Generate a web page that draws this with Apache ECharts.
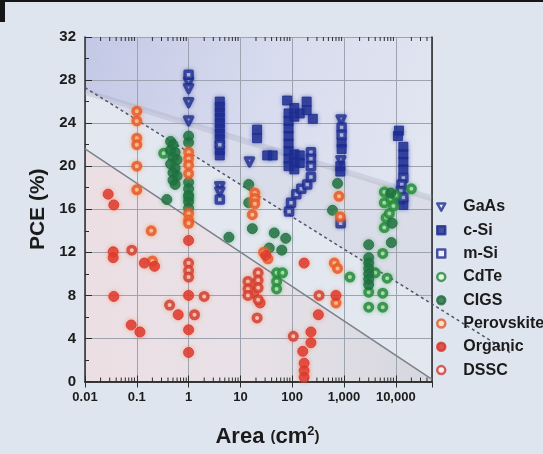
<!DOCTYPE html>
<html>
<head>
<meta charset="utf-8">
<script src="https://cdn.jsdelivr.net/npm/echarts@6/dist/echarts.min.js"></script>
<style>
  html, body { margin: 0; padding: 0; background: #dee5ef; }
  #chart { width: 543px; height: 454px; }
  #topline { position: absolute; left: 0; top: 0; width: 543px; height: 2px; background: #161616; }
  #corner { position: absolute; left: 0; top: 0; width: 5px; height: 22px; background: #161616; }
</style>
</head>
<body>
<div id="chart"></div>
<div id="topline"></div>
<div id="corner"></div>
<script>
// values: [area cm2, PCE %]
const gaas = [[1, 27.8], [1, 27.2], [1, 25.9], [1, 24.2], [4, 18.1], [4, 17.6], [15, 20.4], [880, 24.3], [870, 20.5]];
const cSi = [
  [4, 26.0], [4, 25.5], [4, 25.0], [4, 24.5], [4, 24.0], [4, 23.5], [4, 23.0], [4, 22.5], [4, 21.5], [4, 21.0],
  [21, 23.4], [21, 22.6], [33, 21.0], [42, 21.0],
  [80, 26.1], [85, 24.9], [85, 24.2], [85, 23.5], [85, 22.8], [85, 22.1], [85, 21.4], [85, 20.7], [85, 20.0],
  [110, 25.4], [110, 24.6], [110, 21.1], [110, 20.4], [110, 19.7], [140, 24.9], [140, 21.0], [140, 20.3],
  [190, 26.0], [190, 25.2], [250, 24.4],
  [900, 22.2], [900, 21.6], [850, 20.0], [850, 19.5],
  [11500, 23.3], [11000, 22.8], [14000, 21.8], [14000, 21.1], [14000, 20.4], [14000, 19.7], [12000, 16.9], [14000, 16.4]
];
const mSi = [
  [1, 28.5], [4, 22.0], [4, 16.9],
  [87, 15.8], [95, 16.6], [120, 17.4], [150, 17.9], [195, 18.3], [230, 19.0],
  [230, 21.3], [230, 20.7], [230, 20.0],
  [900, 23.6], [900, 22.9], [860, 14.7],
  [14000, 18.9], [13000, 18.3], [12500, 17.7], [14000, 17.1]
];
const cdte = [
  [0.33, 21.2], [1, 17.1], [50, 10.1], [65, 10.1], [50, 9.3], [50, 8.6], [1300, 9.7],
  [3000, 8.3], [3000, 6.9], [4000, 10.1], [5600, 8.2], [5600, 6.9], [6800, 9.6], [5600, 11.9],
  [6000, 17.6], [6000, 16.6], [6500, 15.2], [6000, 14.3], [8000, 17.0], [9000, 16.3], [7500, 15.6],
  [20000, 17.9], [10000, 17.3]
];
const cigs = [
  [0.45, 22.3], [0.5, 22.0], [0.45, 21.5], [0.55, 21.3], [0.5, 20.8], [0.6, 20.6], [0.45, 20.2], [0.55, 19.8],
  [0.5, 19.4], [0.6, 19.1], [0.5, 18.7], [0.55, 18.3], [0.38, 16.9],
  [1, 22.8], [1, 22.2], [1, 18.5], [1, 17.9], [1, 17.3], [1, 16.7], [1, 16.1],
  [6, 13.4], [14.5, 18.3], [14.5, 16.6], [17, 14.2], [45, 13.8], [75, 13.3], [36, 12.4], [63, 12.2],
  [750, 18.4], [600, 15.9],
  [3000, 12.7], [3000, 11.5], [3000, 11.0], [3000, 10.5], [3000, 10.0], [3000, 9.5], [3000, 9.0],
  [8200, 12.9], [8500, 14.7], [8000, 17.5]
];
const perovskite = [
  [0.1, 25.1], [0.1, 24.2], [0.1, 22.6], [0.1, 22.0], [0.1, 20.0], [0.1, 17.8], [0.19, 14.0], [0.2, 11.2],
  [1, 21.3], [1, 20.7], [1, 20.1], [1, 19.3], [1, 15.6], [1, 15.0], [1, 14.7],
  [19, 17.5], [19, 17.0], [19, 16.5], [17, 15.5], [28, 12.0], [34, 11.4],
  [800, 17.2], [850, 15.3], [650, 11.0], [750, 10.5], [700, 7.3]
];
const organic = [
  [0.028, 17.4], [0.036, 16.4], [0.035, 12.05], [0.035, 11.5], [0.14, 11.0], [0.22, 10.7], [0.036, 7.9],
  [0.078, 5.25], [0.115, 4.6], [1, 13.1], [1, 8.0], [0.63, 6.2], [1, 4.8], [1, 2.7],
  [31, 11.7], [17, 9.0], [18, 8.2], [24, 7.3],
  [170, 11.0], [320, 6.2], [230, 4.6], [230, 3.6], [160, 2.8], [170, 1.7], [170, 1.0], [170, 0.4], [700, 8.0]
];
const dssc = [
  [0.08, 12.2], [1, 11.0], [1, 10.3], [1, 9.7], [0.43, 7.1], [1.3, 6.2], [2.0, 7.9],
  [14, 9.3], [14, 8.6], [14, 8.0], [22, 10.1], [22, 9.4], [22, 8.7], [22, 7.6], [21, 5.9],
  [330, 8.0], [105, 4.2]
];

// trend lines and shaded zones, in data units
const upperBandLine = [[0.01, 26.9], [50000, 17.0]];
const dashedTrend = [[0.01, 27.3], [1.7e6, 2.6]];
const solidTrend = [[0.01, 21.6], [50000, 0.2]];
const plotZone = [[0.01, 32], [50000, 32], [50000, 0], [0.01, 0]];
const blueZone = [[0.01, 32], [50000, 32], [50000, 17.0], [0.01, 26.9]];
const wedgeZone = [[0.01, 26.9], [50000, 17.0], [50000, 7.2], [0.01, 27.3]];
const pinkZone = [[0.01, 21.6], [50000, 0.2], [50000, 0], [0.01, 0]];

const yTicks = [0, 4, 8, 12, 16, 20, 24, 28, 32];
const areaMin = 0.01, areaMax = 50000;

const minorTickValues = [];
for (let e = -2; e <= 4; e++) {
  for (let m = 2; m <= 9; m++) {
    const v = m * Math.pow(10, e);
    if (v < areaMax) minorTickValues.push([v, 0]);
  }
}

const FONT = '"Liberation Sans", Arial, sans-serif';
const chart = echarts.init(document.getElementById('chart'), null, { renderer: 'canvas' });

function fmtArea(v) {
  const n = Math.round(v * 100) / 100;
  if (n >= 1000) return String(n).replace(/\B(?=(\d{3})+(?!\d))/g, ',');
  return String(n);
}

function zone(points, fill) {
  return {
    type: 'custom', silent: true, z: -1, data: [[1, 1]],
    renderItem: (params, api) => ({
      type: 'polygon',
      shape: { points: points.map(p => api.coord(p)) },
      style: { fill: fill }
    })
  };
}

function markers(name, data, symbol, size, fill, stroke, bw, glow, rotate) {
  return {
    name: name, type: 'scatter', data: data, symbol: symbol, symbolSize: size,
    symbolRotate: rotate || 0,
    itemStyle: {
      color: fill, borderColor: stroke, borderWidth: bw, borderJoin: 'round',
      shadowBlur: 4, shadowColor: glow
    },
    z: 5
  };
}

const option = {
  backgroundColor: '#dee5ef',
  animation: false,
  grid: { left: 85, right: 111, top: 37, bottom: 72.5 },
  legend: {
    orient: 'vertical', left: 431, top: 194, itemGap: 7.3, itemWidth: 8, itemHeight: 8,
    itemStyle: { borderWidth: 2.5 },
    textStyle: { fontFamily: FONT, fontWeight: 'bold', fontSize: 16, color: '#1b1b1b', padding: [0, 0, 0, 13] },
    data: [
      { name: 'GaAs', icon: 'path://M0,0 L10,0 L5,9 Z' },
      'c-Si', 'm-Si', 'CdTe', 'CIGS', 'Perovskite', 'Organic', 'DSSC'
    ]
  },
  xAxis: [{
    type: 'log', logBase: 10, min: areaMin, max: areaMax, splitNumber: 7,
    name: '{a|Area }{p|(}{a|cm}{s|2}{p|)}', nameLocation: 'middle', nameGap: 43,
    nameTextStyle: {
      padding: [0, 0, 0, 18],
      rich: {
        a: { fontFamily: FONT, fontWeight: 'bold', fontSize: 22, color: '#1b1b1b' },
        p: { fontFamily: FONT, fontWeight: 'bold', fontSize: 15, color: '#1b1b1b' },
        s: { fontFamily: FONT, fontWeight: 'bold', fontSize: 13, color: '#1b1b1b', padding: [0, 0, 12, 0] }
      }
    },
    axisLine: { lineStyle: { color: '#2c2c2c', width: 1.5 } },
    axisTick: { inside: true, length: 6, lineStyle: { color: '#2c2c2c' } },
    axisLabel: {
      formatter: fmtArea, showMaxLabel: false, margin: 9,
      fontFamily: FONT, fontWeight: 'bold', fontSize: 13, color: '#1b1b1b'
    },
    splitLine: { show: true, lineStyle: { color: '#9ea3b0', width: 1 } }
  }, {
    type: 'log', logBase: 10, min: areaMin, max: areaMax, splitNumber: 7, position: 'top',
    axisLine: { lineStyle: { color: '#2c2c2c', width: 1.5 } },
    axisTick: { inside: true, length: 6, lineStyle: { color: '#2c2c2c' } },
    axisLabel: { show: false }, splitLine: { show: false }
  }],
  yAxis: [{
    type: 'value', min: yTicks[0], max: yTicks[yTicks.length - 1], interval: 4,
    name: 'PCE (%)', nameLocation: 'middle', nameGap: 36,
    nameTextStyle: { fontFamily: FONT, fontWeight: 'bold', fontSize: 21, color: '#1b1b1b' },
    axisLine: { show: true, lineStyle: { color: '#2c2c2c', width: 1.5 } },
    axisTick: { inside: true, length: 7, lineStyle: { color: '#2c2c2c' } },
    minorTick: { show: true, splitNumber: 2, length: 4, lineStyle: { color: '#2c2c2c' } },
    axisLabel: { margin: 9, fontFamily: FONT, fontWeight: 'bold', fontSize: 15, color: '#1b1b1b' },
    splitLine: { show: true, lineStyle: { color: '#9ea3b0', width: 1 } }
  }, {
    type: 'value', min: yTicks[0], max: yTicks[yTicks.length - 1], interval: 4, position: 'right',
    axisLine: { show: true, lineStyle: { color: '#262626', width: 1.5 } },
    axisTick: { show: false }, axisLabel: { show: false }, splitLine: { show: false }
  }],
  series: [
    zone(plotZone, '#e3e7f0'),
    zone(blueZone, new echarts.graphic.LinearGradient(0, 0, 1, 0.7, [
      { offset: 0, color: '#c3c8e6' },
      { offset: 0.5, color: '#d7dbee' },
      { offset: 1, color: '#e2e6f1' }
    ])),
    zone(wedgeZone, new echarts.graphic.LinearGradient(0, 0, 1, 0, [
      { offset: 0, color: '#d8dbed' },
      { offset: 1, color: '#dadde7' }
    ])),
    zone(pinkZone, new echarts.graphic.LinearGradient(0, 0, 1, 0, [
      { offset: 0, color: '#ecdfe3' },
      { offset: 0.5, color: '#e7e1e7' },
      { offset: 1, color: '#d5d7df' }
    ])),
    {
      type: 'line', data: upperBandLine, symbol: 'none', silent: true, z: 1,
      lineStyle: { color: 'rgba(150,156,180,0.25)', width: 6 }
    },
    {
      type: 'line', data: solidTrend, symbol: 'none', silent: true, z: 3,
      lineStyle: { color: '#7d8089', width: 1.5 }
    },
    {
      type: 'custom', silent: true, z: 3, clip: false, data: [[1, 1]],
      renderItem: (params, api) => {
        const a = api.coord(dashedTrend[0]);
        const b = api.coord(dashedTrend[1]);
        return {
          type: 'line', shape: { x1: a[0], y1: a[1], x2: b[0], y2: b[1] },
          style: { stroke: '#4f5566', lineWidth: 1.5, lineDash: [3, 3] }
        };
      }
    },
    {
      type: 'custom', silent: true, z: 4, data: minorTickValues,
      renderItem: (params, api) => {
        const b = api.coord([api.value(0), yTicks[0]]);
        const t = api.coord([api.value(0), yTicks[yTicks.length - 1]]);
        const st = { stroke: '#2c2c2c', lineWidth: 1 };
        return {
          type: 'group', children: [
            { type: 'line', shape: { x1: b[0], y1: b[1], x2: b[0], y2: b[1] - 4 }, style: st },
            { type: 'line', shape: { x1: t[0], y1: t[1], x2: t[0], y2: t[1] + 4 }, style: st }
          ]
        };
      }
    },
    markers('GaAs', gaas, 'triangle', 8, '#f1f2fa', '#1f2d8c', 3.5, 'rgba(40,60,160,0.5)', 180),
    markers('c-Si', cSi, 'rect', 9, '#1d2a8e', '#1d2a8e', 1, 'rgba(40,60,160,0.5)'),
    markers('m-Si', mSi, 'rect', 7, '#f2f4fb', '#1d2a8e', 3.5, 'rgba(40,60,160,0.5)'),
    markers('CdTe', cdte, 'circle', 7.5, '#e6f8dc', '#23853a', 3.5, 'rgba(60,180,80,0.6)'),
    markers('CIGS', cigs, 'circle', 10, '#1f6e3e', '#1f6e3e', 1, 'rgba(40,140,80,0.5)'),
    markers('Perovskite', perovskite, 'circle', 7.5, '#fde2c0', '#e2552b', 3.5, 'rgba(255,140,60,0.7)'),
    markers('Organic', organic, 'circle', 10, '#d9322a', '#d9322a', 1, 'rgba(255,110,60,0.6)'),
    markers('DSSC', dssc, 'circle', 7.5, '#fdf1f1', '#cc3a30', 3.5, 'rgba(255,110,60,0.6)')
  ]
};

chart.setOption(option);
</script>
</body>
</html>
